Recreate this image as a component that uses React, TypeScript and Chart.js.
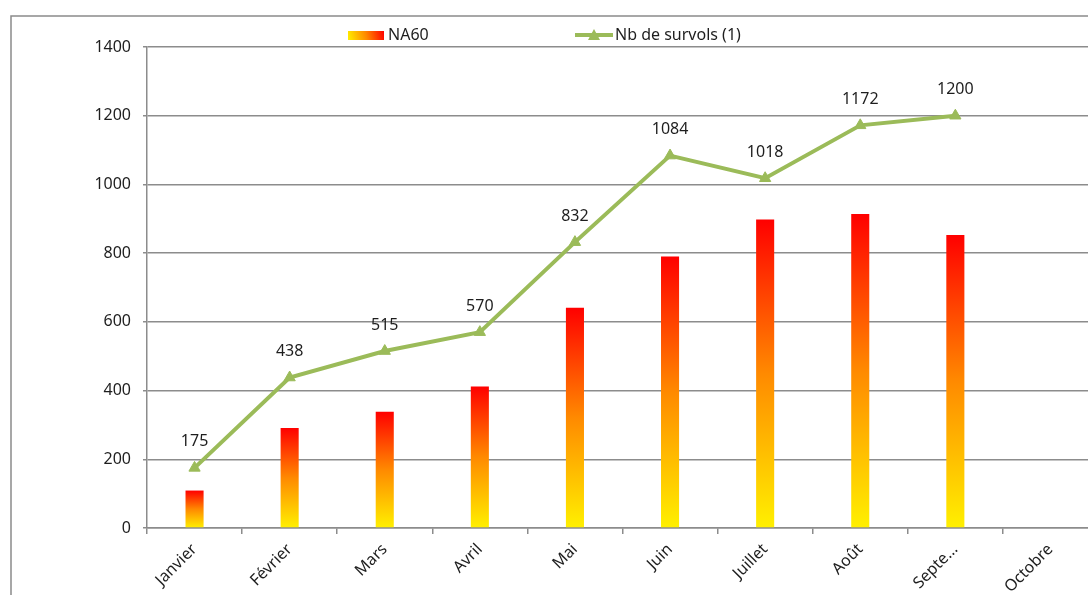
import React, { useEffect, useRef } from "react";
import { Chart, registerables } from "chart.js";

Chart.register(...registerables);

const months = ["Janvier", "Février", "Mars", "Avril", "Mai", "Juin", "Juillet", "Août", "Septe...", "Octobre"];
const na60 = [109, 291, 338, 412, 641, 790, 898, 914, 853, null];
const survols = [175, 438, 515, 570, 832, 1084, 1018, 1172, 1200, null];
const yTicks = [0, 200, 400, 600, 800, 1000, 1200, 1400];

const FONT = "'Noto Sans', sans-serif";
const GREEN = "#9BBB59";
const GRID = "#8c8c8c";
const TEXT = "#1e1e1e";

function fireGradient(c: CanvasRenderingContext2D, x0: number, y0: number, x1: number, y1: number) {
  const g = c.createLinearGradient(x0, y0, x1, y1);
  g.addColorStop(0, "#FFF000");
  g.addColorStop(0.5, "#FF8A00");
  g.addColorStop(1, "#FF0000");
  return g;
}

const decorPlugin = {
  id: "decor",
  afterDatasetsDraw(chart: any) {
    const c = chart.ctx as CanvasRenderingContext2D;
    const meta = chart.getDatasetMeta(1);
    c.save();
    c.font = `16px ${FONT}`;
    c.fillStyle = TEXT;
    c.textAlign = "center";
    c.textBaseline = "middle";
    meta.data.forEach((pt: any, i: number) => {
      const v = survols[i];
      if (v == null) return;
      c.fillText(String(v), pt.x, pt.y - 26);
    });
    c.restore();
  },
  afterDraw(chart: any) {
    const c = chart.ctx as CanvasRenderingContext2D;
    c.save();
    // frame
    c.strokeStyle = "#8a8a8a";
    c.lineWidth = 1.5;
    c.strokeRect(11, 16, 3000, 3000);
    // legend
    c.fillStyle = fireGradient(c, 348, 40, 384, 31);
    c.fillRect(348, 31, 36, 9);
    c.font = `16px ${FONT}`;
    c.fillStyle = TEXT;
    c.textAlign = "left";
    c.textBaseline = "middle";
    c.fillText("NA60", 388, 35);
    c.strokeStyle = GREEN;
    c.lineWidth = 4;
    c.beginPath();
    c.moveTo(575, 35);
    c.lineTo(613, 35);
    c.stroke();
    c.fillStyle = GREEN;
    c.beginPath();
    c.moveTo(594, 29);
    c.lineTo(600, 40);
    c.lineTo(588, 40);
    c.closePath();
    c.fill();
    c.fillStyle = TEXT;
    c.fillText("Nb de survols (1)", 615, 35);
    c.restore();
  },
};

export default function App() {
  const ref = useRef<HTMLCanvasElement | null>(null);
  useEffect(() => {
    if (!ref.current) return;
    const chart = new Chart(ref.current, {
      type: "bar",
      data: {
        labels: months,
        datasets: [
          {
            type: "bar",
            label: "NA60",
            data: na60 as any,
            order: 2,
            barPercentage: 0.19,
            categoryPercentage: 1,
            borderWidth: 0,
            backgroundColor: (ctx: any) => {
              const ch = ctx.chart;
              const y = ch.scales?.y;
              if (!ch.chartArea || !y || ctx.raw == null) return "#FF8A00";
              const top = y.getPixelForValue(ctx.raw);
              const base = y.getPixelForValue(0);
              return fireGradient(ch.ctx, 0, base, 0, top);
            },
          },
          {
            type: "line",
            label: "Nb de survols (1)",
            data: survols as any,
            order: 1,
            borderColor: GREEN,
            backgroundColor: GREEN,
            borderWidth: 4,
            tension: 0,
            pointStyle: "triangle",
            pointRadius: 6.5,
            pointBorderWidth: 1,
            pointBorderColor: GREEN,
            pointBackgroundColor: GREEN,
            spanGaps: false,
          },
        ],
      },
      options: {
        responsive: false,
        animation: false,
        events: [],
        layout: { padding: { left: 0, top: 47, right: 32, bottom: 0 } },
        plugins: { legend: { display: false }, tooltip: { enabled: false } },
        scales: {
          x: {
            afterFit: (s: any) => {
              s.height = 67;
            },
            border: { color: GRID, width: 1.5 },
            grid: { drawOnChartArea: false, drawTicks: true, tickLength: 6, color: GRID, lineWidth: 1.5, offset: true },
            ticks: {
              color: TEXT,
              font: { family: FONT, size: 16 },
              minRotation: 45,
              maxRotation: 45,
              autoSkip: false,
              padding: 6,
            },
          },
          y: {
            min: 0,
            max: 1400,
            afterFit: (s: any) => {
              s.width = 147;
            },
            afterBuildTicks: (s: any) => {
              s.ticks = yTicks.map((v) => ({ value: v }));
            },
            border: { color: GRID, width: 1.5 },
            grid: { color: GRID, lineWidth: 1.5, tickLength: 4 },
            ticks: {
              color: TEXT,
              font: { family: FONT, size: 16 },
              padding: 12,
              callback: (v: any) => String(v),
            },
          },
        },
      },
      plugins: [decorPlugin],
    } as any);
    return () => chart.destroy();
  }, []);
  return (
    <div style={{ position: "fixed", left: 0, top: 0, width: 1088, height: 595, overflow: "hidden", background: "#fff" }}>
      <canvas ref={ref} width={1130} height={595} style={{ width: 1130, height: 595, display: "block" }} />
    </div>
  );
}
